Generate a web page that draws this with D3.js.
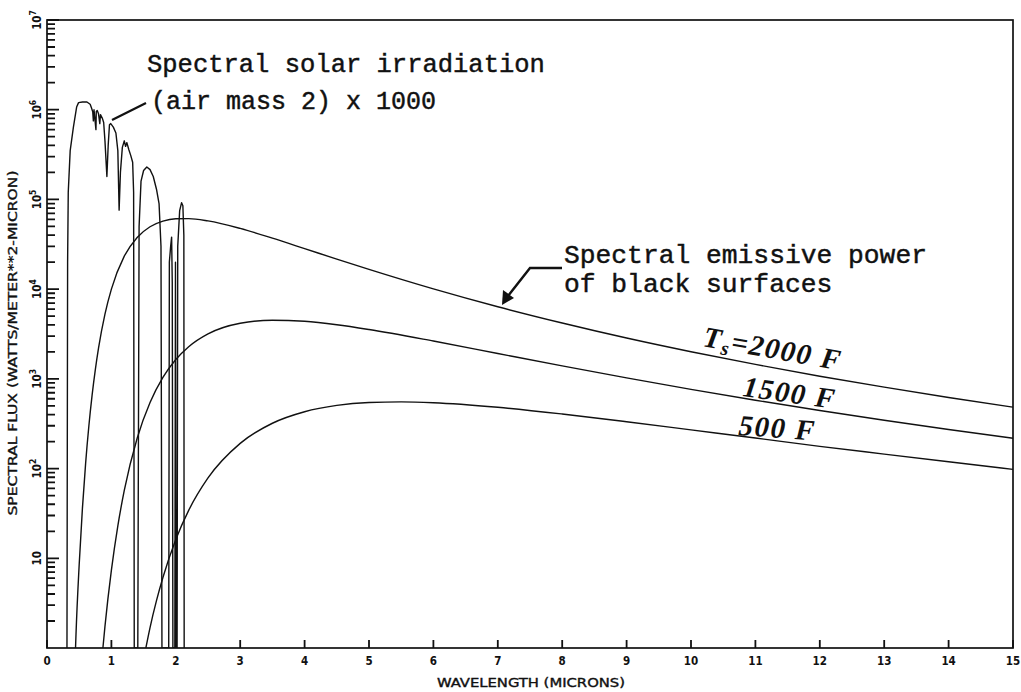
<!DOCTYPE html>
<html><head><meta charset="utf-8">
<script src="https://cdn.jsdelivr.net/npm/d3@7"></script>
<style>body{margin:0;background:#fff}svg{display:block}</style>
</head><body>
<svg id="chart" width="1021" height="692"></svg>
<script>
// ---------- data ----------
const xTickValues = [0,1,2,3,4,5,6,7,8,9,10,11,12,13,14,15];
const yMajorValues = [10,100,1e3,1e4,1e5,1e6,1e7];
const yMajorExp = ["","2","3","4","5","6","7"];

// solar irradiation (air mass 2) x 1000
const solarWl  = [0.31,0.32,0.33,0.36,0.41,0.46,0.49,0.55,0.62,0.67,0.69,0.71,0.72,0.73,0.76,0.765,0.78,0.8,0.82,0.83,0.86,0.88,0.9,0.93,0.95,0.97,0.99,1.03,1.07,1.1,1.12,1.14,1.17,1.2,1.22,1.24,1.27,1.3,1.33,1.345,1.355,1.41,1.43,1.46,1.5,1.55,1.6,1.65,1.7,1.74,1.77,1.785,1.89,1.9,1.92,1.935,1.945,1.955,1.985,1.995,2.005,2.02,2.03,2.06,2.09,2.11,2.125,2.13];
const solarVal = [1,2e4,1.2e5,3.5e5,6.4e5,1.07e6,1.2e6,1.22e6,1.22e6,1.15e6,1.05e6,9.5e5,7.5e5,1.0e6,6.0e5,9.5e5,9.8e5,9.0e5,7.0e5,8.8e5,8.0e5,7.2e5,4.5e5,1.8e5,4.0e5,6.8e5,7.0e5,6.4e5,5.5e5,3.5e5,7.6e4,2.0e5,3.8e5,4.5e5,3.9e5,4.3e5,3.6e5,3.1e5,2.6e5,1.2e5,1,1,5e4,1.6e5,2.1e5,2.3e5,2.15e5,1.8e5,1.3e5,9e4,3e4,1,1,2e4,3e4,3.8e4,1.2e4,1,1,2e4,1,1,3e4,7.5e4,9.2e4,8.5e4,4e4,1];

// black surfaces, Ts = 2000 F
const bb2000Wl  = [0.443,0.45,0.5,0.55,0.6,0.65,0.7,0.75,0.8,0.9,1.0,1.2,1.4,1.6,1.8,2.0,2.2,2.5,3,3.5,4,4.5,5,6,7,8,9,10,11,12,13,14,15];
const bb2000Val = [1,1.4,8.6,36,115,298,654,1260,2200,5260,10000,23300,37700,49600,57300,60800,61100,57600,47500,37000,28300,21600,16600,10060,6360,4190,2850,2005,1450,1070,808,620,484];
// labelled 1500 F
const bb1500Wl  = [0.868,0.9,1.0,1.1,1.2,1.4,1.6,1.8,2.0,2.2,2.5,3,3.5,4,4.5,5,6,7,8,9,10,11,12,13,14,15];
const bb1500Val = [1,1.74,7.37,23,57,218,545,1037,1641,2283,3174,4171,4507,4381,4010,3547,2638,1917,1395,1025,764,578,444,346,273,218];
// labelled 500 F
const bb500Wl  = [1.535,1.6,1.7,1.8,2.0,2.2,2.5,3,3.5,4,4.5,5,5.5,6,7,8,9,10,11,12,13,14,15];
const bb500Val = [1,1.69,3.37,6.11,16.2,34.2,78.6,191,320,430,506,545,554,542,482,406,333,270,219,177,145,119,98];

// ---------- layout ----------
const svg = d3.select("#chart");
const L = 47, R = 1013, T = 20, B = 648;
const x = d3.scaleLinear().domain([0,15]).range([L,R]);
const y = d3.scaleLog().domain([1,1e7]).range([B,T]);
const ink = "#111";
const plotFont = "DejaVu Sans Condensed, DejaVu Sans, sans-serif";

svg.append("defs").append("clipPath").attr("id","clip")
  .append("rect").attr("x",L).attr("y",T).attr("width",R-L).attr("height",B-T);

// frame
svg.append("rect").attr("x",L).attr("y",T).attr("width",R-L).attr("height",B-T)
  .attr("fill","none").attr("stroke",ink).attr("stroke-width",1.7);

// ticks drawn as path segments (inward)
const yMinor = [];
for (let k=0;k<7;k++) for (let m=2;m<=9;m++) yMinor.push(m*Math.pow(10,k));
let tp = "";
xTickValues.forEach(d => { tp += `M${x(d)},${B}V${B-8}`; });
yMinor.forEach(d => { tp += `M${L},${y(d)}H${L+8}`; });
yMajorValues.forEach(d => { tp += `M${L},${y(d)}H${L+12}`; });
svg.append("path").attr("d",tp).attr("fill","none").attr("stroke",ink).attr("stroke-width",1.8);

svg.append("g").selectAll("text").data(xTickValues).join("text")
  .attr("x",d=>x(d)).attr("y",665).attr("text-anchor","middle")
  .attr("font-family",plotFont).attr("font-weight","bold")
  .attr("font-size",11.5).attr("fill",ink).text(d=>d);

const ylab = svg.append("g").selectAll("text").data(yMajorValues).join("text")
  .attr("transform",d=>`translate(41,${y(d)}) rotate(-90)`)
  .attr("text-anchor","middle")
  .attr("font-family",plotFont).attr("font-weight","bold")
  .attr("font-size",11.5).attr("fill",ink);
ylab.append("tspan").text("10");
ylab.append("tspan").attr("dy",-5).attr("font-size",8.5).text((d,i)=>yMajorExp[i]);

// axis titles
svg.append("text").attr("transform",`translate(17,343) rotate(-90)`)
  .attr("text-anchor","middle").attr("font-family",plotFont)
  .attr("font-size",13).attr("fill",ink).attr("stroke",ink).attr("stroke-width",0.35)
  .attr("textLength",345).attr("lengthAdjust","spacingAndGlyphs")
  .text("SPECTRAL FLUX (WATTS/METER**2-MICRON)");
svg.append("text").attr("x",531).attr("y",687)
  .attr("text-anchor","middle").attr("font-family",plotFont)
  .attr("font-size",12.5).attr("fill",ink).attr("stroke",ink).attr("stroke-width",0.35)
  .attr("textLength",188).attr("lengthAdjust","spacingAndGlyphs")
  .text("WAVELENGTH (MICRONS)");

// curves
const plot = svg.append("g").attr("clip-path","url(#clip)");
const lineLin = d3.line().x(d=>x(d[0])).y(d=>y(d[1]));
const lineSm = d3.line().x(d=>x(d[0])).y(d=>y(d[1])).curve(d3.curveMonotoneX);
plot.append("path").datum(d3.zip(solarWl,solarVal)).attr("d",lineLin)
  .attr("fill","none").attr("stroke",ink).attr("stroke-width",1.4).attr("stroke-linejoin","round");
[[bb2000Wl,bb2000Val],[bb1500Wl,bb1500Val],[bb500Wl,bb500Val]].forEach(([w,v])=>{
  plot.append("path").datum(d3.zip(w,v)).attr("d",lineSm)
    .attr("fill","none").attr("stroke",ink).attr("stroke-width",1.4);
});

// annotations
const mono = "Liberation Mono, DejaVu Sans Mono, monospace";
function note(xp, yp, s, fs) {
  svg.append("text").attr("x",xp).attr("y",yp).attr("font-family",mono).attr("font-size",fs)
    .attr("fill",ink).attr("stroke",ink).attr("stroke-width",0.45).text(s);
}
note(147,72,"Spectral solar irradiation",25.5);
note(151,109,"(air mass 2) x 1000",25);
svg.append("line").attr("x1",146).attr("y1",103).attr("x2",112).attr("y2",120)
  .attr("stroke",ink).attr("stroke-width",2.2);

note(564,263,"Spectral emissive power",26.3);
note(564,292,"of black surfaces",26.3);
svg.append("path").attr("d","M562,268 L530,268 L508,296")
  .attr("fill","none").attr("stroke",ink).attr("stroke-width",2.4);
svg.append("path").attr("d","M502,305 L503,290 L514,298 Z").attr("fill",ink);

const serif = "Liberation Serif, DejaVu Serif, serif";
function tlabel(tr) {
  return svg.append("text").attr("transform",tr)
    .attr("font-family",serif).attr("font-style","italic").attr("font-weight","bold")
    .attr("font-size",29).attr("letter-spacing",1.5).attr("fill",ink);
}
const t1 = tlabel("translate(702,346) rotate(10)");
t1.append("tspan").text("T");
t1.append("tspan").attr("dy",5).attr("font-size",20).text("s");
t1.append("tspan").attr("dy",-5).text("=2000 F");
tlabel("translate(742,396) rotate(8)").text("1500 F");
tlabel("translate(738,435) rotate(4)").text("500 F");
</script>
</body></html>
